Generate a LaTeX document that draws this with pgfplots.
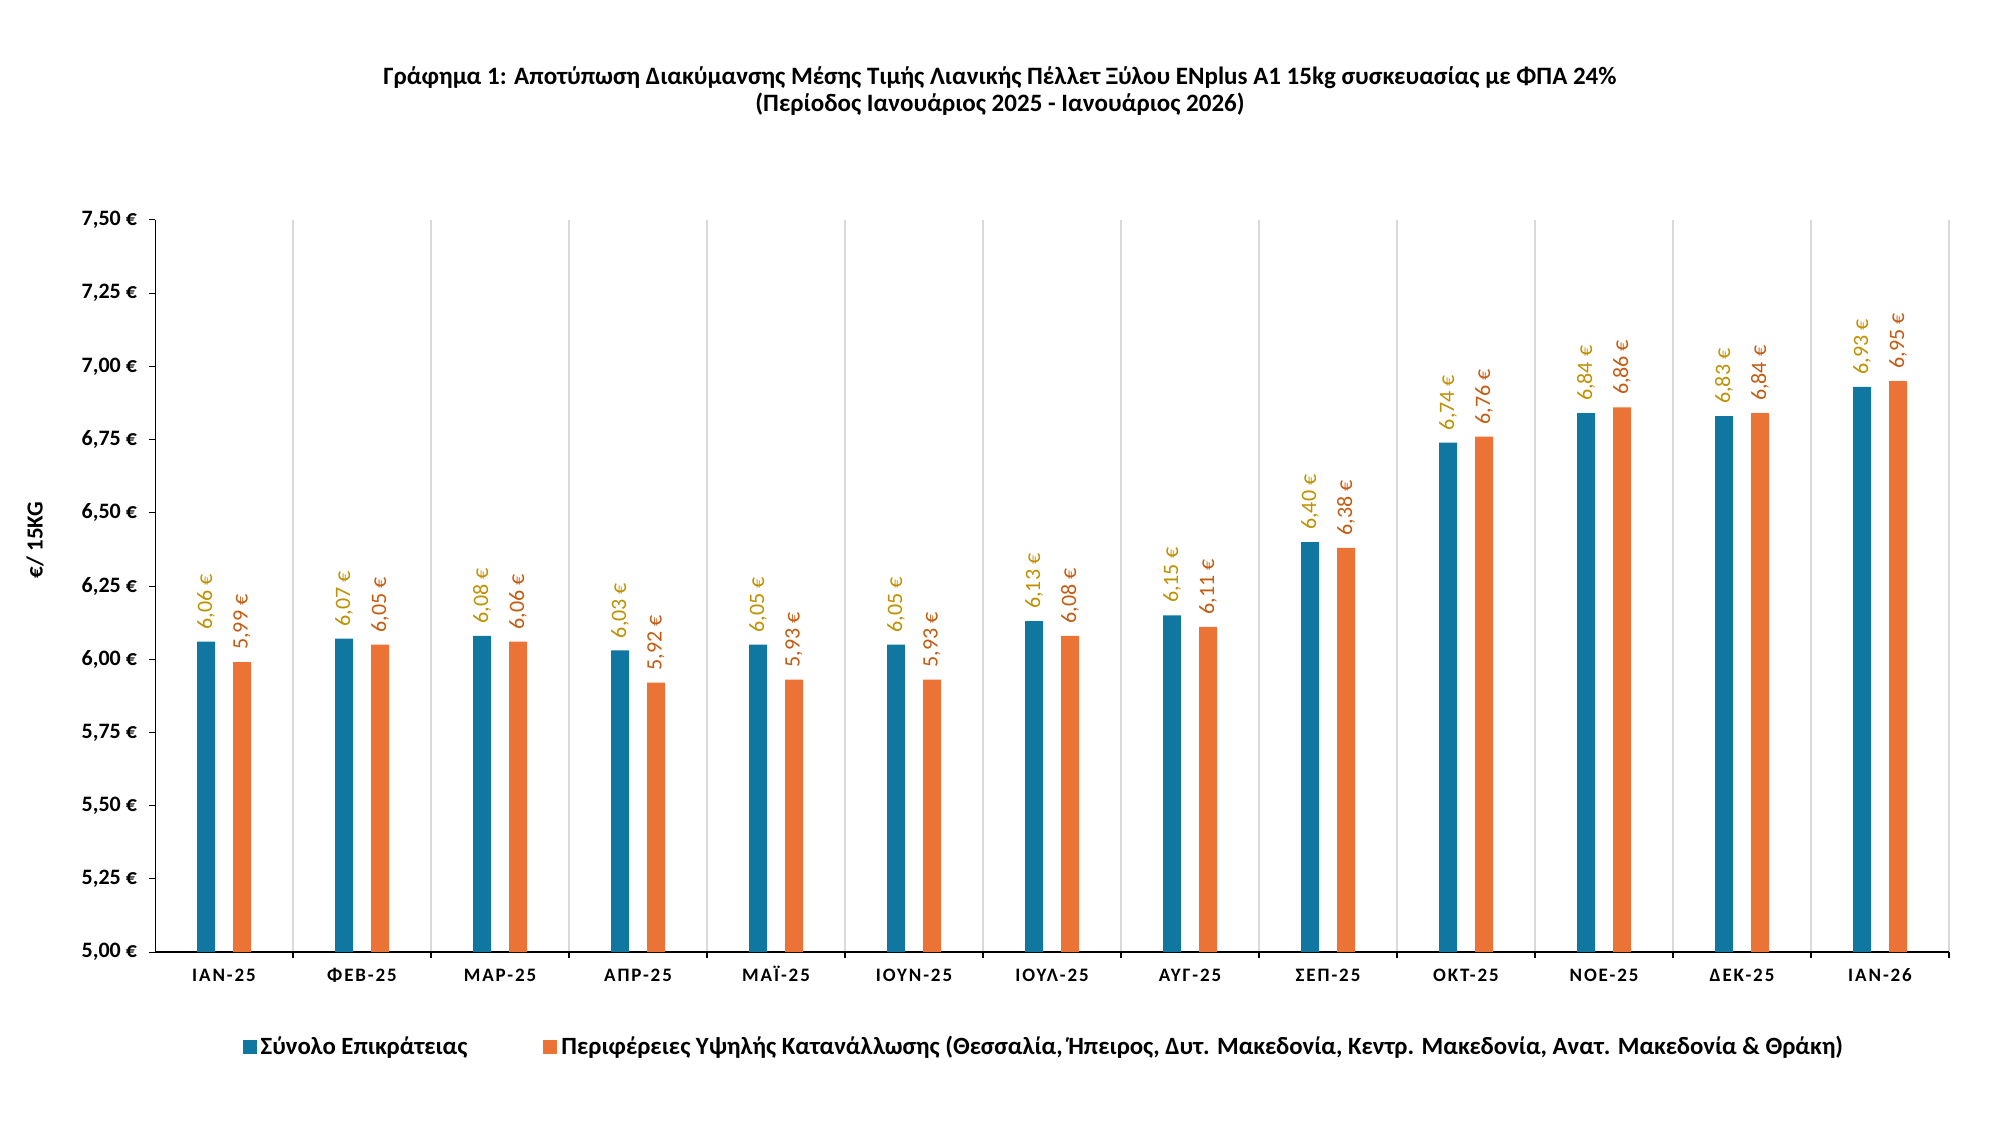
\documentclass[border=0pt]{standalone}
\usepackage{fontspec}
\setmainfont{Carlito}
\newfontfamily\spacedfont[LetterSpace=10]{Carlito}
\usepackage{pgfplots}
\pgfplotsset{compat=1.18}

\definecolor{cblue}{HTML}{0F77A0}
\definecolor{corange}{HTML}{EB7335}
\definecolor{labgold}{HTML}{BF9000}
\definecolor{laborange}{HTML}{C55A11}
\definecolor{gridgray}{HTML}{D9D9D9}

\begin{document}
\begin{tikzpicture}
\useasboundingbox (0,0) rectangle (1000pt,562.5pt);

% title
\node[font=\bfseries\fontsize{12.5}{15}\selectfont] at (500pt,523.5pt)
  {Γράφημα 1: Αποτύπωση Διακύμανσης Μέσης Τιμής Λιανικής Πέλλετ Ξύλου ENplus A1 15kg συσκευασίας με ΦΠΑ 24\%};
\node[font=\bfseries\fontsize{12.5}{15}\selectfont] at (500pt,510.5pt)
  {(Περίοδος Ιανουάριος 2025 - Ιανουάριος 2026)};

% y axis title
\node[font=\bfseries\fontsize{11.5}{14}\selectfont, rotate=90] at (17.5pt,292.5pt) {€/ 15KG};

\begin{axis}[
    at={(77.5pt,86.5pt)}, anchor=south west,
    width=897pt, height=366pt, scale only axis,
    ybar, bar width=9pt,
    xmin=-0.5, xmax=12.5,
    ymin=5, ymax=7.5,
    ytick={5,5.25,...,7.5},
    axis lines*=left,
    x axis line style={line width=1pt},
    y axis line style={line width=0.5pt},
    xtick={0,...,12},
    xticklabels={ΙΑΝ-25,ΦΕΒ-25,ΜΑΡ-25,ΑΠΡ-25,ΜΑΪ-25,ΙΟΥΝ-25,ΙΟΥΛ-25,ΑΥΓ-25,ΣΕΠ-25,ΟΚΤ-25,ΝΟΕ-25,ΔΕΚ-25,ΙΑΝ-26},
    major x tick style={draw=none},
    minor xtick={0.5,1.5,...,12.5},
    extra x ticks={-0.5},
    extra x tick labels={},
    extra x tick style={major tick length=3pt, tick style={black, line width=0.8pt}},
    minor x tick style={black, line width=0.8pt},
    minor tick length=3pt,
    xminorgrids=true,
    minor x grid style={gridgray, line width=1pt},
    tick align=outside,
    major tick length=3pt,
    y tick style={black, line width=0.5pt},
    xticklabel style={font=\spacedfont\bfseries\fontsize{9.5}{11}\selectfont,
        anchor=north, text height=7pt, text depth=1pt, yshift=-1pt},
    yticklabel style={font=\bfseries\fontsize{11}{13}\selectfont, xshift=-2.5pt},
    /pgf/number format/assume math mode=true,
    yticklabel={\pgfmathprintnumber[fixed,fixed zerofill,precision=2,use comma]{\tick}~€},
    nodes near coords={\pgfmathprintnumber[fixed,fixed zerofill,precision=2,use comma]{\pgfplotspointmeta}~€},
    every node near coord/.append style={rotate=90, anchor=west, inner xsep=6pt, inner ysep=0pt,
        font=\fontsize{11}{13}\selectfont},
    legend style={at={(0.496,-0.13)}, anchor=center, draw=none,
        font=\bfseries\fontsize{12.4}{15}\selectfont,
        /tikz/every even column/.append style={column sep=36pt}},
    legend columns=2,
    legend image code/.code={\fill[#1] (0pt,-3.5pt) rectangle (7pt,3.5pt);},
]

\addplot[fill=cblue, draw=none, bar shift=-9pt,
    every node near coord/.append style={text=labgold}] coordinates {
    (0,6.06) (1,6.07) (2,6.08) (3,6.03) (4,6.05) (5,6.05) (6,6.13)
    (7,6.15) (8,6.40) (9,6.74) (10,6.84) (11,6.83) (12,6.93)
};
\addplot[fill=corange, draw=none, bar shift=9pt,
    every node near coord/.append style={text=laborange}] coordinates {
    (0,5.99) (1,6.05) (2,6.06) (3,5.92) (4,5.93) (5,5.93) (6,6.08)
    (7,6.11) (8,6.38) (9,6.76) (10,6.86) (11,6.84) (12,6.95)
};

\legend{Σύνολο Επικράτειας, {Περιφέρειες Υψηλής Κατανάλλωσης (Θεσσαλία, Ήπειρος, Δυτ. Μακεδονία, Κεντρ. Μακεδονία, Ανατ. Μακεδονία \& Θράκη)}}
\end{axis}
\end{tikzpicture}
\end{document}
